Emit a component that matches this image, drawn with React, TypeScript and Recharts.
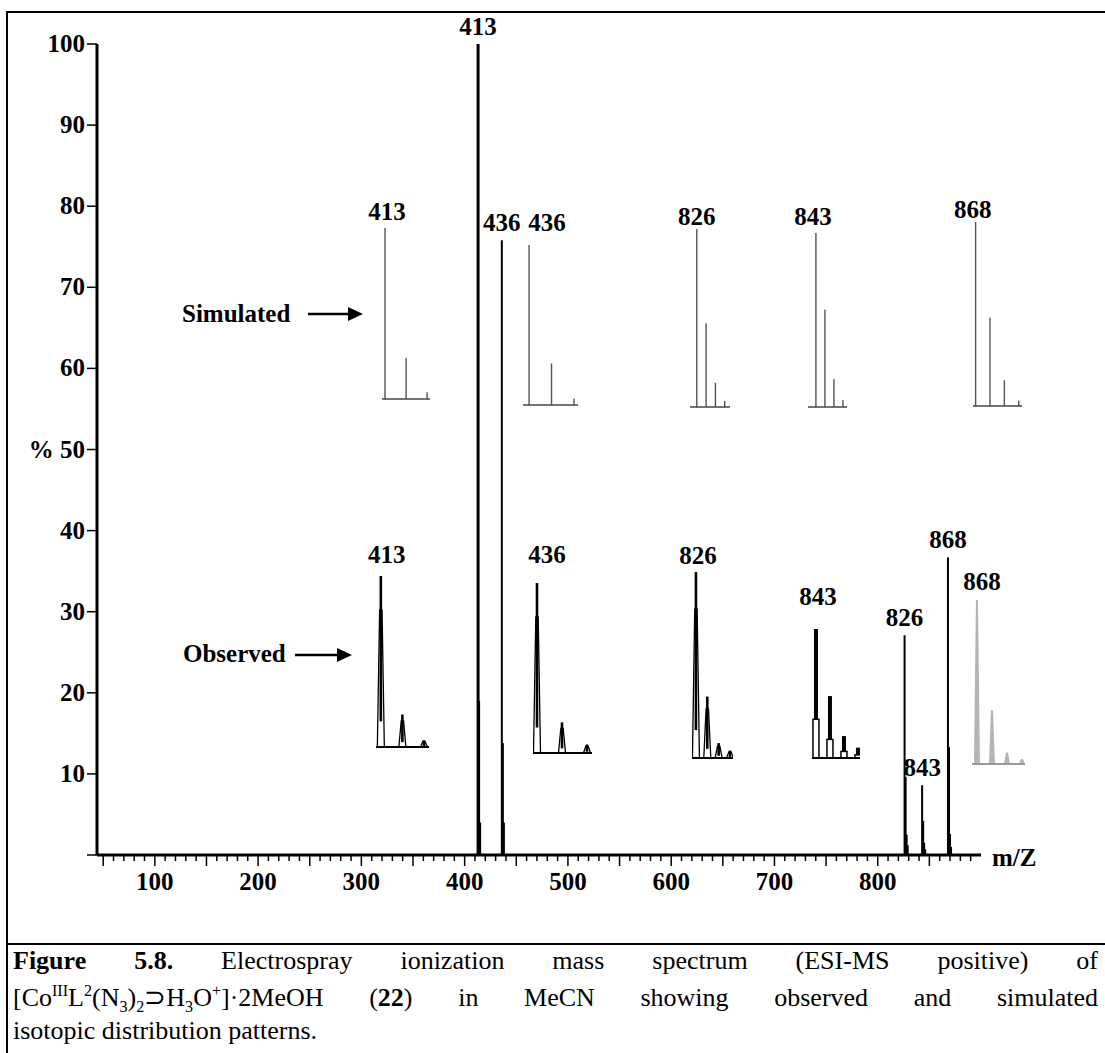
import React from "react";
import { ComposedChart, Bar, XAxis, YAxis, LabelList } from "recharts";

const FONT = '"Liberation Serif", "Times New Roman", serif';

// full ESI-MS spectrum (m/z, relative %)
const spectrumMz = [413, 414, 415, 436, 437, 438, 826, 827, 828, 829, 843, 844, 845, 846, 868, 869, 870, 871];
const spectrumPct = [100, 19, 4, 75.8, 13.8, 4, 27.1, 9.6, 2.5, 1.2, 8.6, 4.2, 1.5, 0.7, 36.7, 13.3, 2.6, 1];
const labelledPeaks = [413, 436, 826, 843, 868];

const yTicks = [0, 10, 20, 30, 40, 50, 60, 70, 80, 90, 100];
const xTickLabels = [100, 200, 300, 400, 500, 600, 700, 800];
const xMinorTicks = Array.from({ length: 85 }, (_, i) => 50 + i * 10);

// isotope patterns
const iso413 = [413, 414, 415];
const iso436 = [436, 437, 438];
const iso826 = [826, 827, 828, 829];
const iso843 = [843, 844, 845, 846];
const iso868 = [868, 869, 870, 871];

const sim413 = [100, 24, 4];
const sim436 = [100, 26, 4];
const sim826 = [100, 47, 13.5, 3.4];
const sim843 = [100, 56, 16, 4];
const sim868 = [100, 48, 14, 3];

const obs413 = [100, 19, 4];
const obs436 = [100, 18, 5];
const obs826 = [100, 33, 8, 4];
const obs843 = [100, 48, 17, 8];
const obs868 = [100, 33, 7, 3];

type Kind = "sim" | "obs" | "bars" | "faint";

// where each small isotope plot sits on the page
const insets: {
  mz: number[];
  pct: number[];
  kind: Kind;
  left: number;
  width: number;
  top: number;
  base: number;
  domain: [number, number];
  ldx: number;
  ldy: number;
}[] = [
  { mz: iso413, pct: sim413, kind: "sim", left: 382, width: 48, top: 228, base: 399, domain: [412.86, 415.14], ldx: 2, ldy: -8 },
  { mz: iso436, pct: sim436, kind: "sim", left: 523, width: 55, top: 245, base: 405, domain: [435.73, 438.18], ldx: 18, ldy: -14 },
  { mz: iso826, pct: sim826, kind: "sim", left: 690, width: 40, top: 229, base: 407, domain: [825.25, 829.54], ldx: 0, ldy: -4 },
  { mz: iso843, pct: sim843, kind: "sim", left: 808, width: 39, top: 233, base: 407, domain: [842.11, 846.44], ldx: -3, ldy: -8 },
  { mz: iso868, pct: sim868, kind: "sim", left: 973, width: 49, top: 222, base: 406, domain: [867.8, 871.21], ldx: -3, ldy: -4 },
  { mz: iso413, pct: obs413, kind: "obs", left: 376, width: 53, top: 576, base: 747, domain: [412.77, 415.23], ldx: 6, ldy: -13 },
  { mz: iso436, pct: obs436, kind: "obs", left: 533, width: 59, top: 583, base: 753, domain: [435.84, 438.2], ldx: 10, ldy: -20 },
  { mz: iso826, pct: obs826, kind: "obs", left: 692, width: 41, top: 572, base: 758, domain: [825.65, 829.26], ldx: 2, ldy: -8 },
  { mz: iso843, pct: obs843, kind: "bars", left: 812, width: 48, top: 629, base: 758, domain: [842.71, 846.14], ldx: 2, ldy: -24 },
  { mz: iso868, pct: obs868, kind: "faint", left: 972, width: 53, top: 600, base: 764, domain: [867.67, 871.2], ldx: 5, ldy: -10 },
];

const numStyle = { fontFamily: FONT, fontWeight: 700, fontSize: 25, fill: "#000" };

function mainStick(props: any) {
  const { x, y, width, height, payload } = props;
  if (!height || height <= 0) return <g />;
  const cx = x + width / 2;
  const w = payload && payload.mz === 413 ? 3 : 2;
  return <rect x={cx - w / 2} y={y} width={w} height={height} fill="#000" />;
}

function mainLabel(props: any) {
  const { x, y, width, value } = props;
  if (!labelledPeaks.includes(Number(value))) return null;
  return (
    <text x={x + width / 2} y={y - 9} textAnchor="middle" {...numStyle}>
      {value}
    </text>
  );
}

function XTick(props: any) {
  const { x, y, payload } = props;
  const v = payload.value;
  const len = v % 50 === 0 ? 10 : 5;
  return (
    <g>
      <line x1={x} x2={x} y1={y + 1} y2={y + 1 + len} stroke="#000" strokeWidth={1.5} />
      {xTickLabels.includes(v) && (
        <text x={x} y={y + 35} textAnchor="middle" {...numStyle}>
          {v}
        </text>
      )}
    </g>
  );
}

function YTick(props: any) {
  const { x, y, payload } = props;
  const v = payload.value;
  if (v === 0) return <g />;
  return (
    <text x={x + 1} y={y + 8} textAnchor="end" {...numStyle}>
      {v === 50 ? "% 50" : v}
    </text>
  );
}

function peakShape(kind: Kind) {
  return (props: any) => {
    const { x, y, width, height } = props;
    if (!height || height <= 0) return <g />;
    const cx = x + width / 2;
    const b = y + height;
    if (kind === "sim") return <rect x={cx - 0.7} y={y} width={1.4} height={height} fill="#555" />;
    if (kind === "bars")
      return (
        <g>
          <rect x={cx - 3} y={y + height * 0.7} width={6} height={height * 0.3} fill="#fff" stroke="#000" strokeWidth={1.5} />
          <rect x={cx - 2} y={y} width={4} height={height * 0.7} fill="#000" />
        </g>
      );
    if (kind === "faint")
      return (
        <polygon
          points={`${cx - 3},${b} ${cx - 1},${y} ${cx + 1},${y} ${cx + 3},${b}`}
          fill="#b4b4b4"
        />
      );
    return (
      <g>
        <polygon
          points={`${cx - 3.5},${b} ${cx - 1.2},${y + height * 0.2} ${cx + 1.2},${y + height * 0.2} ${cx + 3.5},${b}`}
          fill="#fff"
          stroke="#000"
          strokeWidth={1.3}
        />
        <rect x={cx - 1.3} y={y} width={2.6} height={height * 0.85} fill="#000" />
      </g>
    );
  };
}

function Inset({ cfg }: { cfg: (typeof insets)[number] }) {
  const data = cfg.mz.map((m, i) => ({ mz: m, pct: cfg.pct[i] }));
  const padT = 45;
  const padX = 35;
  const axH = 8;
  const plotH = cfg.base - cfg.top;
  const lineCol = cfg.kind === "sim" ? "#444" : cfg.kind === "faint" ? "#999" : "#000";
  const first = cfg.mz[0];
  return (
    <div style={{ position: "absolute", left: cfg.left - padX, top: cfg.top - padT }}>
      <ComposedChart
        width={cfg.width + padX * 2}
        height={padT + plotH + axH}
        data={data}
        margin={{ top: padT, right: padX, left: padX, bottom: 0 }}
      >
        <XAxis
          dataKey="mz"
          type="number"
          domain={cfg.domain}
          allowDataOverflow
          ticks={cfg.mz}
          interval={0}
          tick={false}
          tickSize={3}
          height={axH}
          axisLine={{ stroke: lineCol, strokeWidth: cfg.kind === "sim" ? 1.5 : 2 }}
          tickLine={{ stroke: lineCol, strokeWidth: 1 }}
        />
        <YAxis hide width={0} domain={[0, 100]} allowDataOverflow />
        <Bar dataKey="pct" shape={peakShape(cfg.kind)} isAnimationActive={false}>
          <LabelList
            dataKey="mz"
            content={(p: any) =>
              Number(p.value) === first ? (
                <text x={p.x + p.width / 2 + cfg.ldx} y={p.y + cfg.ldy} textAnchor="middle" {...numStyle}>
                  {first}
                </text>
              ) : null
            }
          />
        </Bar>
      </ComposedChart>
    </div>
  );
}

const sub = { fontSize: "0.62em", verticalAlign: "sub", lineHeight: 0 } as const;
const sup = { fontSize: "0.62em", verticalAlign: "super", lineHeight: 0 } as const;

export default function App() {
  const spectrum = spectrumMz.map((m, i) => ({ mz: m, pct: spectrumPct[i] }));
  const lineBase = {
    position: "absolute" as const,
    left: 13,
    width: 1085,
    fontFamily: FONT,
    fontSize: 26,
    lineHeight: "30px",
    whiteSpace: "nowrap" as const,
    color: "#000",
  };
  return (
    <div
      style={{
        position: "absolute",
        left: 0,
        top: 0,
        width: 1105,
        height: 1053,
        overflow: "hidden",
        background: "#fff",
      }}
    >
      <div style={{ position: "absolute", left: 6, top: 11, width: 1200, height: 1200, border: "2px solid #000" }} />
      <div style={{ position: "absolute", left: 6, top: 943, width: 1200, height: 2, background: "#000" }} />

      <div style={{ position: "absolute", left: 0, top: 0 }}>
        <ComposedChart width={1105} height={900} data={spectrum} margin={{ top: 44, right: 124, left: 37, bottom: 0 }}>
          <XAxis
            dataKey="mz"
            type="number"
            domain={[44, 900]}
            allowDataOverflow
            ticks={xMinorTicks}
            interval={0}
            tickSize={0}
            tickMargin={0}
            tickLine={false}
            tick={<XTick />}
            height={45}
            axisLine={{ stroke: "#000", strokeWidth: 3 }}
          />
          <YAxis
            type="number"
            domain={[0, 100]}
            allowDataOverflow
            ticks={yTicks}
            interval={0}
            width={60}
            tickSize={10}
            tickMargin={3}
            axisLine={{ stroke: "#000", strokeWidth: 3 }}
            tickLine={{ stroke: "#000", strokeWidth: 1.5 }}
            tick={<YTick />}
          />
          <Bar dataKey="pct" shape={mainStick} isAnimationActive={false}>
            <LabelList dataKey="mz" content={mainLabel} />
          </Bar>
        </ComposedChart>
      </div>

      {insets.map((c, i) => (
        <Inset key={i} cfg={c} />
      ))}

      <svg width={1105} height={1053} style={{ position: "absolute", left: 0, top: 0, pointerEvents: "none" }}>
        <text x={182} y={322} {...numStyle}>Simulated</text>
        <line x1={308} x2={350} y1={314} y2={314} stroke="#000" strokeWidth={2.5} />
        <polygon points="348,307 363,314 348,321" fill="#000" />
        <text x={183} y={662} {...numStyle}>Observed</text>
        <line x1={295} x2={339} y1={655} y2={655} stroke="#000" strokeWidth={2.5} />
        <polygon points="337,648 352,655 337,662" fill="#000" />
        <text x={992} y={866} {...numStyle}>m/Z</text>
      </svg>

      <div style={{ ...lineBase, top: 946, textAlign: "justify", textAlignLast: "justify" }}>
        <b>Figure 5.8.</b> Electrospray ionization mass spectrum (ESI-MS positive) of
      </div>
      <div style={{ ...lineBase, top: 983, textAlign: "justify", textAlignLast: "justify" }}>
        [Co<span style={sup}>III</span>L<span style={sup}>2</span>(N<span style={sub}>3</span>)<span style={sub}>2</span>⊃H
        <span style={sub}>3</span>O<span style={sup}>+</span>]·2MeOH (<b>22</b>) in MeCN showing observed and simulated
      </div>
      <div style={{ ...lineBase, top: 1016 }}>isotopic distribution patterns.</div>
    </div>
  );
}
